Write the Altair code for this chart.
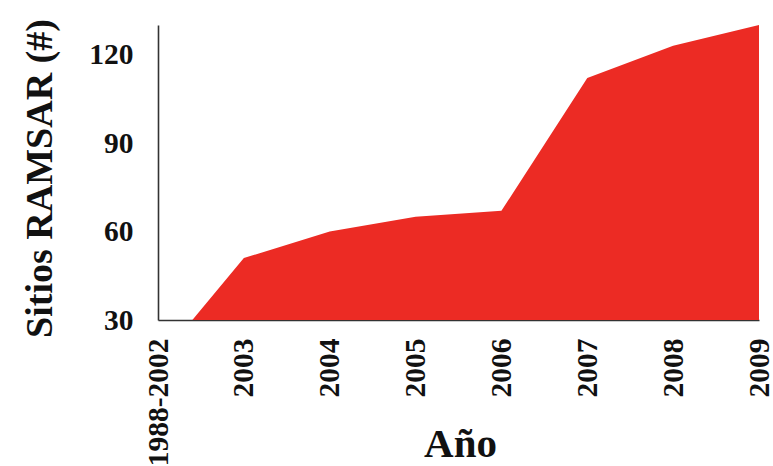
import altair as alt
import pandas as pd

# Cumulative number of Ramsar sites by year
years = ["1988-2002", "2003", "2004", "2005", "2006", "2007", "2008", "2009"]
sites = [16, 51, 60, 65, 67, 112, 123, 130]
y_ticks = [30, 60, 90, 120]

df = pd.DataFrame({"anio": years, "sitios": sites})

FONT = "Liberation Serif"

chart = (
    alt.Chart(df)
    .mark_area(color="#EC2B24", clip=True, opacity=1)
    .encode(
        x=alt.X(
            "anio:O",
            sort=years,
            scale=alt.Scale(type="point", padding=0),
            axis=alt.Axis(
                title="Año",
                labelAngle=-90,
                labelPadding=18,
                ticks=False,
                titleX=302,
                titleY=136,
                titleBaseline="alphabetic",
                titleAlign="center",
                titleFontSize=41,
                labelFontSize=29.5,
            ),
        ),
        y=alt.Y(
            "sitios:Q",
            scale=alt.Scale(domain=[30, 130], nice=False, zero=False),
            axis=alt.Axis(
                title="Sitios RAMSAR (#)",
                values=y_ticks,
                ticks=False,
                grid=False,
                labelPadding=25,
                titleAngle=-90,
                titleX=-118,
                titleY=153,
                titleAlign="center",
                titleBaseline="middle",
                titleFontSize=38,
                labelFontSize=29.5,
            ),
        ),
    )
    .properties(
        width=601,
        height=295,
        autosize=alt.AutoSizeParams(type="none"),
        padding={"left": 158, "top": 25, "right": 14, "bottom": 146},
        background="white",
    )
    .configure_axis(
        labelFont=FONT,
        titleFont=FONT,
        labelFontWeight="bold",
        titleFontWeight="bold",
        labelColor="#111111",
        titleColor="#111111",
        domainColor="#333333",
        domainWidth=1.6,
        grid=False,
    )
    .configure_view(strokeWidth=0)
)

chart.save("out.html", embed_options={"renderer": "svg", "actions": False})
